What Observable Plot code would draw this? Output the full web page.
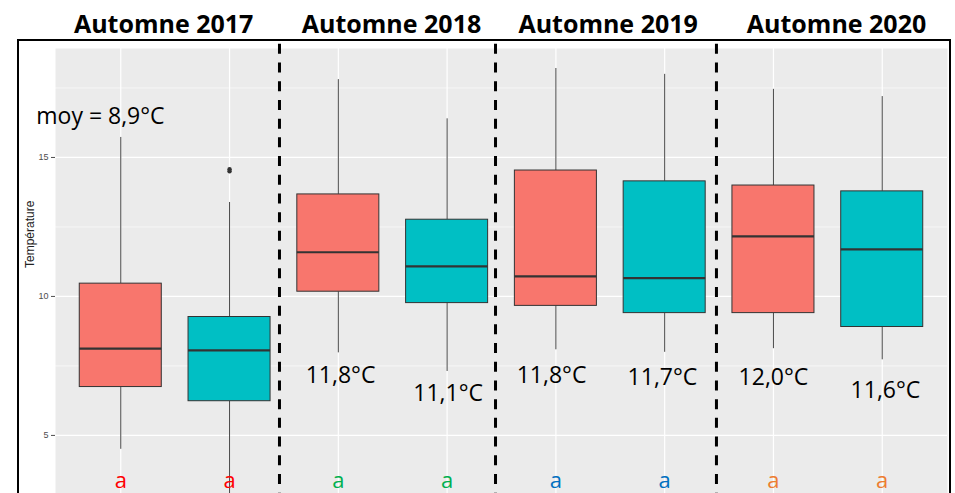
<!DOCTYPE html>
<html>
<head>
<meta charset="utf-8">
<script src="https://cdn.jsdelivr.net/npm/d3@7"></script>
<script src="https://cdn.jsdelivr.net/npm/@observablehq/plot@0.6"></script>
<style>
  html, body { margin: 0; padding: 0; background: #fff; overflow: hidden; }
  #wrap { position: relative; width: 955px; height: 493px; overflow: hidden; }
  #border { position: absolute; left: 17px; top: 39px; width: 934px; height: 470px;
            box-sizing: border-box; border: 2px solid #000; border-bottom: none; pointer-events: none; }
</style>
</head>
<body>
<div id="wrap"><div id="chart"></div><div id="border"></div></div>
<script>
// ---- data ----
const seasons = ["Automne 2017", "Automne 2018", "Automne 2019", "Automne 2020"];
const groups = ["G1", "G2"];
const q1  = [6.74, 6.23, 10.17, 9.76, 9.66, 9.40, 9.40, 8.90];
const med = [8.12, 8.06, 11.59, 11.08, 10.72, 10.66, 12.16, 11.69];
const q3  = [10.46, 9.26, 13.67, 12.76, 14.53, 14.14, 13.99, 13.78];
const lo  = [4.50, 2.50, 7.97, 7.30, 8.08, 7.99, 8.12, 7.72];
const hi  = [15.72, 13.38, 17.80, 16.39, 18.20, 17.99, 17.45, 17.19];
const outlierBox = [1, 1];
const outlierVal = [14.50, 14.58];
const yTicks = [5, 10, 15];
const yMinor = [7.5, 12.5, 17.5];
const yLabel = "Température";
const meanText = ["moy = 8,9°C", "11,8°C", "11,1°C", "11,8°C", "11,7°C", "12,0°C", "11,6°C"];
const meanX = [-0.187, 2.02, 3.01, 3.96, 4.98, 6.00, 7.03];
const meanY = [16.22, 6.87, 6.22, 6.87, 6.80, 6.80, 6.33];
const letters = ["a", "a", "a", "a", "a", "a", "a", "a"];
const letterY = 3.12;
const titleX = [0.394, 2.489, 4.48, 6.58];
const dividers = [1.459, 3.445, 5.476];

// ---- tables ----
const boxes = q1.map((_, i) => ({
  i, season: seasons[Math.floor(i / 2)], group: groups[i % 2],
  q1: q1[i], med: med[i], q3: q3[i], lo: lo[i], hi: hi[i]
}));
const outliers = outlierBox.map((b, k) => ({i: b, v: outlierVal[k]}));
const means = meanText.map((t, k) => ({t, x: meanX[k], y: meanY[k]}));
const letterData = letters.map((t, i) => ({t, i, season: seasons[Math.floor(i / 2)]}));
const titles = seasons.map((s, k) => ({s, x: titleX[k]}));
const letterColors = {"Automne 2017": "#FF0000", "Automne 2018": "#00B050", "Automne 2019": "#0070C0", "Automne 2020": "#ED7D31"};
const half = 0.377;
const font = "Open Sans";

const chart = Plot.plot({
  width: 955,
  height: 493,
  marginTop: 48,
  marginBottom: 0,
  marginLeft: 55,
  marginRight: 8,
  x: {domain: [-0.6, 7.6], axis: null},
  y: {domain: [2.91, 18.92], axis: null},
  color: {domain: groups, range: ["#F8766D", "#00BFC4"]},
  style: {fontFamily: "Liberation Sans, Arial, sans-serif", background: "transparent"},
  marks: [
    Plot.frame({fill: "#EBEBEB", stroke: null}),
    Plot.ruleY(yMinor, {stroke: "#fff", strokeWidth: 0.6}),
    Plot.ruleY(yTicks, {stroke: "#fff", strokeWidth: 1.2}),
    Plot.ruleX(boxes, {x: "i", stroke: "#fff", strokeWidth: 1.2}),
    Plot.axisY({ticks: yTicks, tickSize: 4, tickPadding: 3, fontSize: 9, color: "#4D4D4D", label: null}),
    Plot.text([yLabel], {frameAnchor: "left", rotate: -90, dx: -25, dy: -3, fontSize: 12, fill: "#222"}),
    Plot.ruleX(boxes, {x: "i", y1: "q3", y2: "hi", stroke: "#333", strokeWidth: 0.9}),
    Plot.ruleX(boxes, {x: "i", y1: "lo", y2: "q1", stroke: "#333", strokeWidth: 0.9}),
    Plot.rect(boxes, {x1: d => d.i - half, x2: d => d.i + half, y1: "q1", y2: "q3", fill: "group", stroke: "#333", strokeWidth: 1}),
    Plot.ruleY(boxes, {y: "med", x1: d => d.i - half, x2: d => d.i + half, stroke: "#333", strokeWidth: 2.2}),
    Plot.dot(outliers, {x: "i", y: "v", r: 2.2, fill: "#333", stroke: null}),
    Plot.ruleX(dividers, {y1: 19.07, y2: 2.91, stroke: "#000", strokeWidth: 3, strokeDasharray: "10,8.7"}),
    Plot.text(means, {x: "x", y: "y", text: "t", lineAnchor: "bottom", fontSize: 23, fontFamily: font, fill: "#000"}),
    Plot.text(letterData, {x: "i", y: letterY, text: "t", lineAnchor: "bottom", fontSize: 22, fontFamily: font, fill: d => letterColors[d.season]}),
    Plot.text(titles, {x: "x", text: "s", frameAnchor: "top", dy: -16, lineAnchor: "bottom", fontSize: 25, fontWeight: "bold", fontFamily: font, fill: "#000"})
  ]
});
document.getElementById("chart").appendChild(chart);
</script>
</body>
</html>
